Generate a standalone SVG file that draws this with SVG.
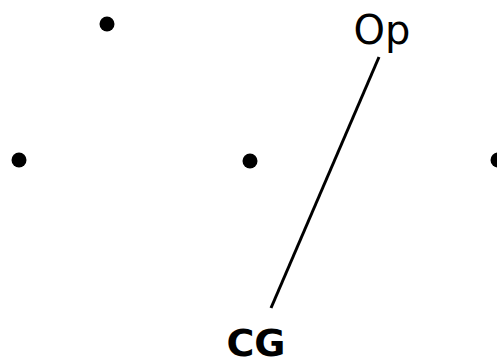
<svg xmlns="http://www.w3.org/2000/svg" width="497" height="361" viewBox="0 0 497 361">
<style>
.dot{fill:#000}
.lbl{font-family:"DejaVu Sans",sans-serif;fill:#000;text-anchor:middle}
.edge{stroke:#000;stroke-width:3;fill:none}
</style>
<rect width="497" height="361" fill="#fff"/>
<g id="connectors">
<line class="edge" x1="379" y1="57" x2="271" y2="308"/>
</g>
<g id="p1"><circle class="dot" cx="107" cy="24" r="7.5"/></g>
<g id="p2"><circle class="dot" cx="19" cy="160" r="7.5"/></g>
<g id="p3"><circle class="dot" cx="250" cy="161" r="7.5"/></g>
<g id="p4"><circle class="dot" cx="498" cy="160" r="7.5"/></g>
<g id="op"><text class="lbl" x="382" y="44" font-size="40">Op</text></g>
<g id="cg"><text class="lbl" x="256" y="356" font-size="38" font-weight="bold">CG</text></g>
</svg>
